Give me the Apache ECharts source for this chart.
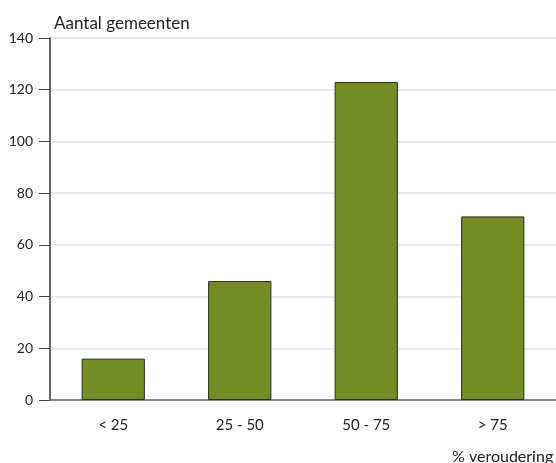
<!DOCTYPE html>
<html>
<head>
<meta charset="utf-8">
<script src="https://cdn.jsdelivr.net/npm/echarts@6/dist/echarts.min.js"></script>
<style>
  html, body { margin: 0; padding: 0; background: #fff; }
  #main { width: 556px; height: 463px; }
</style>
</head>
<body>
<div id="main"></div>
<script>
// categories: % veroudering
const categories = ['< 25', '25 - 50', '50 - 75', '> 75'];
// number of municipalities
const counts = [16, 46, 123, 71];
const yTicks = [0, 20, 40, 60, 80, 100, 120, 140];

const font = 'Lato, "Open Sans", sans-serif';

let chart = echarts.init(document.getElementById('main'));
chart.setOption({
    animation: false,
    title: [
        {
            text: 'Aantal gemeenten',
            left: 49,
            top: 10,
            textStyle: {fontFamily: font, fontSize: 17, fontWeight: 'normal', color: '#222'}
        },
        {
            text: '% veroudering',
            left: 447,
            top: 444,
            textStyle: {fontFamily: font, fontSize: 16, fontWeight: 'normal', color: '#222'}
        }
    ],
    grid: {left: 50, right: 0, top: 38, bottom: 63},
    xAxis: {
        type: 'category',
        data: categories,
        axisLine: {lineStyle: {color: '#666', width: 1.5}},
        axisTick: {show: false},
        axisLabel: {fontFamily: font, fontSize: 15, color: '#222', margin: 18}
    },
    yAxis: {
        type: 'value',
        min: yTicks[0],
        max: yTicks[yTicks.length - 1],
        interval: 20,
        axisLine: {show: true, lineStyle: {color: '#333', width: 1.5}},
        axisTick: {show: true, length: 11, lineStyle: {color: '#444'}},
        axisLabel: {fontFamily: font, fontSize: 14, color: '#222', margin: 17},
        splitLine: {lineStyle: {color: '#e2e2e2', width: 1.5}}
    },
    series: [{
        type: 'bar',
        data: counts,
        barWidth: '50%',
        itemStyle: {color: '#748c23', borderColor: '#2b2b1e', borderWidth: 1}
    }]
});
</script>
</body>
</html>
